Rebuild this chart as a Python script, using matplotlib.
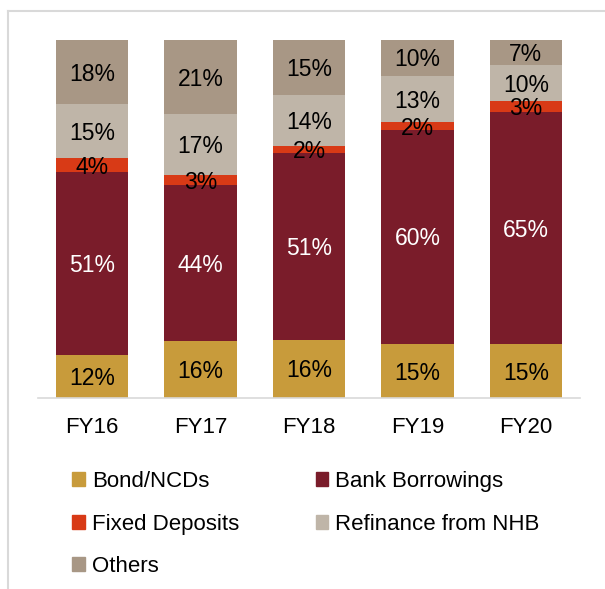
import numpy as np
import matplotlib.pyplot as plt
from matplotlib.patches import Rectangle
from matplotlib.lines import Line2D

plt.rcParams['font.family'] = ['Liberation Sans', 'DejaVu Sans']

years = ['FY16', 'FY17', 'FY18', 'FY19', 'FY20']
series = ['Bond/NCDs', 'Bank Borrowings', 'Fixed Deposits', 'Refinance from NHB', 'Others']
bond = [12, 16, 16, 15, 15]
bank = [51, 44, 51, 60, 65]
fixed_dep = [4, 3, 2, 2, 3]
refinance = [15, 17, 14, 13, 10]
others = [18, 21, 15, 10, 7]
colors = ['#C89B3B', '#7A1C2A', '#D83A16', '#BFB5A8', '#A89785']
text_colors = ['black', 'white', 'black', 'black', 'black']

values = np.array([bond, bank, fixed_dep, refinance, others], dtype=float)
shares = values / values.sum(axis=0) * 100

W, H = 605, 589
fig = plt.figure(figsize=(W / 100, H / 100), dpi=100)
ax = fig.add_axes([38 / W, 1 - 398 / H, 542 / W, 358 / H])

x = np.arange(len(years))
bottom = np.zeros(len(years))
for i, name in enumerate(series):
    ax.bar(x, shares[i], 0.667, bottom=bottom, color=colors[i], label=name)
    for j in range(len(years)):
        ax.annotate('{:.0f}%'.format(values[i][j]), (x[j], bottom[j] + shares[i][j] / 2),
                    xytext=(0, -1.5), textcoords='offset points',
                    ha='center', va='center', fontsize=16.5, color=text_colors[i])
    bottom += shares[i]

ax.set_xlim(-0.5, len(years) - 0.5)
ax.set_ylim(0, 100)
ax.set_yticks([])
ax.set_xticks(x)
ax.set_xticklabels(years, fontsize=16)
ax.tick_params(axis='x', length=0, pad=14)
for side in ['top', 'right', 'left']:
    ax.spines[side].set_visible(False)
ax.spines['bottom'].set_color('#D9D9D9')
ax.spines['bottom'].set_linewidth(1.2)

# outer frame lines on the top and left edge
fig.add_artist(Line2D([8 / W, 1], [1 - 11 / H] * 2, color='#D9D9D9', lw=1.5))
fig.add_artist(Line2D([8 / W] * 2, [0, 1 - 11 / H], color='#D9D9D9', lw=1.5))

handles = [Rectangle((0, 0), 1, 1, color=c) for c in colors]
order = [0, 2, 4, 1, 3]
fig.legend([handles[k] for k in order], [series[k] for k in order],
           ncol=2, loc='upper left', bbox_to_anchor=(61 / W, 1 - 460 / H),
           frameon=False, fontsize=16, handlelength=0.58, handleheight=0.58,
           handletextpad=0.3, labelspacing=0.97, columnspacing=3.45, borderpad=0)

fig.savefig('out.png', dpi=100)
